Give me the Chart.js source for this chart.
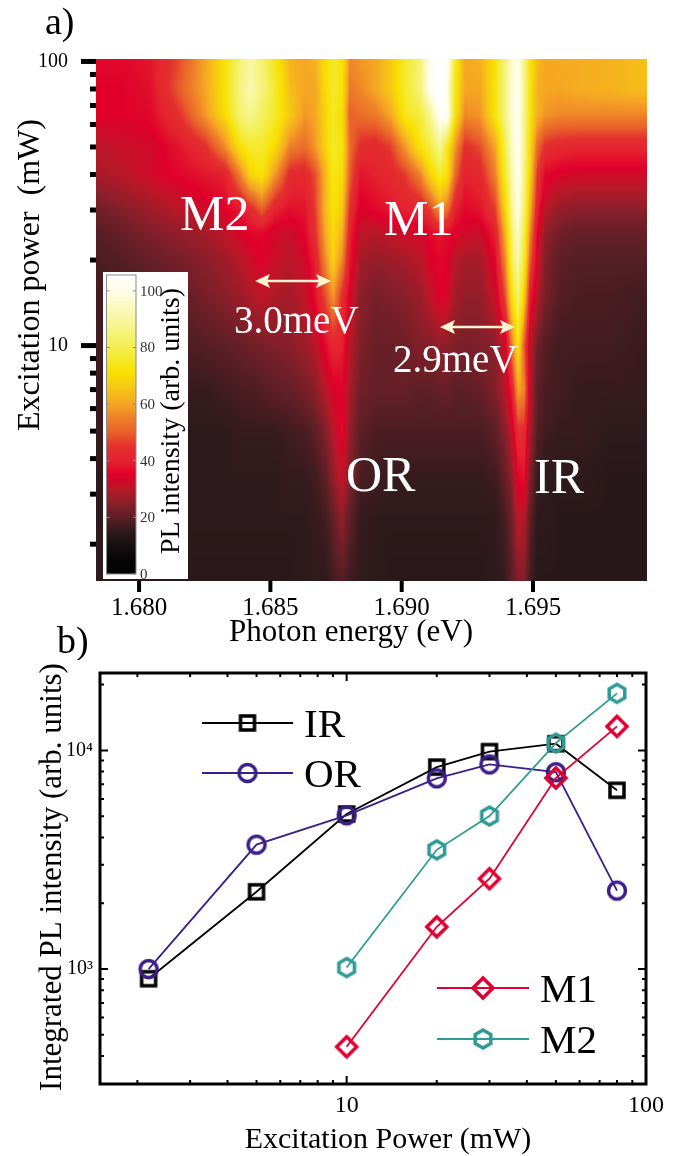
<!DOCTYPE html>
<html>
<head>
<meta charset="utf-8">
<title>PL map</title>
<script src="https://cdn.jsdelivr.net/npm/chart.js@4/dist/chart.umd.min.js"></script>
<style>
  html, body { margin: 0; padding: 0; background: #fff; }
  body { position: relative; width: 681px; height: 1156px; overflow: hidden; }
  canvas { position: absolute; left: 0; }
  #mapChart { top: 0; }
  #lineChart { top: 640px; }
</style>
</head>
<body>
<canvas id="lineChart" width="681" height="516"></canvas>
<canvas id="mapChart" width="681" height="660"></canvas>
<script>
// panel a: PL map, values
const heatEnergies = [1.67836, 1.67928, 1.68042, 1.68156, 1.68251, 1.68327, 1.68385, 1.68423, 1.68468, 1.68518,
  1.68575, 1.68632, 1.68670, 1.68708, 1.68739, 1.68773, 1.68803, 1.68842, 1.68899, 1.68956,
  1.69013, 1.69070, 1.69108, 1.69146, 1.69173, 1.69203, 1.69241, 1.69299, 1.69356, 1.69394,
  1.69420, 1.69443, 1.69466, 1.69489, 1.69516, 1.69546, 1.69603, 1.69679, 1.69793, 1.69934];
const heatPowers = [102, 80, 65, 50, 40, 30, 25, 20, 15, 10, 7, 5, 3.5, 2.5, 1.484];
const heatRows = [
  [36,36,38,48,60,72,84,90,84,74,62,60,62,70,76,72,56,58,60,66,76,84,102,108,104,76,60,62,72,86,96,100,88,72,64,60,61,61,62,65],
  [35,35,37,50,60,72,86,92,86,76,64,60,60,70,76,72,54,56,60,66,76,85,102,108,100,74,60,60,72,86,98,102,88,72,62,60,60,61,62,64],
  [35,35,36,45,58,70,84,88,82,76,66,58,60,68,76,70,50,52,54,60,74,78,88,104,104,72,56,58,72,86,98,102,88,72,62,58,56,56,56,56],
  [30,32,33,38,44,56,72,76,76,70,55,52,58,68,76,72,52,44,42,46,58,72,78,88,74,58,44,48,60,80,95,102,88,70,52,44,42,41,41,41],
  [28,30,33,36,38,40,55,68,72,58,43,42,48,62,74,70,50,38,40,42,46,55,68,76,72,52,40,42,55,76,92,102,86,68,46,36,34,33,33,33],
  [22,24,27,30,33,35,38,42,50,40,37,38,46,62,72,66,44,34,36,38,40,40,46,58,52,40,36,38,46,68,88,100,84,62,40,30,26,25,25,25],
  [19,21,24,26,28,31,34,36,36,33,32,36,44,60,70,62,40,31,30,31,33,33,36,38,37,35,33,32,40,62,84,96,80,56,36,26,22,21,21,21],
  [18,19,21,23,25,27,30,32,35,32,30,33,40,56,68,56,38,28,26,27,28,30,34,36,35,30,28,28,36,56,80,92,76,50,33,24,20,19,19,19],
  [17,17,18,20,23,25,27,29,31,29,28,31,37,48,58,44,34,25,23,24,25,27,31,35,34,28,26,26,32,48,72,84,68,40,30,23,19,18,18,17],
  [17,16,17,18,19,20,21,22,23,24,25,27,30,36,42,40,30,24,21,21,22,24,24,26,25,24,23,24,25,32,54,72,50,30,22,19,17,17,17,16],
  [16,16,16,16,16,17,18,18,19,20,21,23,25,30,34,35,28,22,21,21,21,20,20,21,21,20,20,21,24,30,40,60,56,30,20,18,17,16,16,16],
  [16,16,15,15,15,15,16,16,16,16,17,18,20,24,30,36,26,20,18,18,18,18,18,18,18,18,18,18,20,25,32,44,44,28,19,17,16,16,15,15],
  [15,15,15,15,15,15,15,15,15,15,16,16,17,20,26,32,24,18,17,16,16,16,16,16,16,16,16,16,17,21,26,36,38,24,16,15,15,15,14,14],
  [15,15,15,15,15,15,15,15,15,15,15,15,16,17,21,26,20,16,15,15,15,15,15,15,15,15,15,15,15,18,22,31,30,20,15,15,14,14,14,14],
  [15,15,14,14,14,14,14,14,14,14,14,15,15,15,17,19,17,15,15,14,14,14,14,14,14,14,14,14,15,16,20,24,24,17,14,14,14,14,14,14]
];
const energyTicks = [1.680, 1.685, 1.690, 1.695];
const powerTicksA = [2, 3, 4, 5, 6, 7, 8, 9, 10, 20, 30, 40, 50, 60, 70, 80, 90, 100];
const barTicks = [0, 20, 40, 60, 80, 100];

// colour bar stops [value, r, g, b]
const colorStops = [
  [0, 0, 0, 0], [5, 6, 6, 6], [10, 21, 16, 16], [15, 46, 26, 28], [20, 94, 31, 38], [25, 138, 31, 42],
  [30, 184, 24, 40], [35, 224, 0, 42], [40, 229, 34, 47], [45, 228, 48, 46], [50, 232, 96, 42], [55, 238, 127, 40],
  [60, 245, 166, 35], [66, 246, 200, 20], [71, 248, 224, 0], [80, 243, 238, 80], [90, 248, 246, 160], [100, 255, 253, 232], [106, 255, 255, 255]
];

// panel b: integrated intensity
const powerIR = [2.18, 5, 10, 20, 30, 50, 80];
const valuesIR = [903, 2257, 5117, 8390, 9880, 10730, 6570];
const valuesOR = [1000, 3707, 5050, 7450, 8630, 7950, 2285];
const powerM = [10, 20, 30, 50, 80];
const valuesM1 = [441, 1560, 2590, 7480, 12880];
const valuesM2 = [1016, 3510, 5010, 10800, 18240];
const powerTicksB = [2, 3, 4, 5, 6, 7, 8, 9, 10, 20, 30, 40, 50, 60, 70, 80, 90, 100];
const intensityTicks = [400, 500, 600, 700, 800, 900, 1000, 2000, 3000, 4000, 5000, 6000, 7000, 8000, 9000, 10000, 20000];

const SERIF = '"Liberation Serif", "Times New Roman", serif';
const C_IR = '#000000', C_OR = '#3b1e87', C_M1 = '#e0002f', C_M2 = '#2f9a96';

function colorFor(v) {
  let i = 1;
  while (i < colorStops.length - 1 && colorStops[i][0] < v) i++;
  const a = colorStops[i - 1], b = colorStops[i];
  const t = Math.min(1, Math.max(0, (v - a[0]) / (b[0] - a[0])));
  return [a[1] + (b[1] - a[1]) * t, a[2] + (b[2] - a[2]) * t, a[3] + (b[3] - a[3]) * t];
}

// finds the segment and fraction of v in a sorted list
function locate(list, v) {
  let i = 0;
  while (i < list.length - 2 && list[i + 1] < v) i++;
  const t = (v - list[i]) / (list[i + 1] - list[i]);
  return [i, Math.min(1, Math.max(0, t))];
}

const logPowers = heatPowers.map(p => -Math.log10(p));

const heatmap = {
  id: 'heatmap',
  beforeDatasetsDraw(chart) {
    const {ctx, chartArea: a, scales} = chart;
    const w = Math.round(a.right - a.left), h = Math.round(a.bottom - a.top);
    const img = ctx.createImageData(w, h);
    for (let py = 0; py < h; py++) {
      const [r, rt] = locate(logPowers, -Math.log10(scales.y.getValueForPixel(a.top + py + 0.5)));
      for (let px = 0; px < w; px++) {
        const [c, ct] = locate(heatEnergies, scales.x.getValueForPixel(a.left + px + 0.5));
        const top = heatRows[r][c] * (1 - ct) + heatRows[r][c + 1] * ct;
        const bot = heatRows[r + 1][c] * (1 - ct) + heatRows[r + 1][c + 1] * ct;
        const col = colorFor(top * (1 - rt) + bot * rt);
        const k = (py * w + px) * 4;
        img.data[k] = col[0];
        img.data[k + 1] = col[1];
        img.data[k + 2] = col[2];
        img.data[k + 3] = 255;
      }
    }
    ctx.putImageData(img, Math.round(a.left), Math.round(a.top));
  }
};

function drawText(ctx, text, x, y, size, color, rot, align) {
  ctx.save();
  ctx.translate(x, y);
  if (rot) ctx.rotate(rot);
  ctx.font = size + 'px ' + SERIF;
  ctx.fillStyle = color;
  ctx.textAlign = align || 'left';
  ctx.textBaseline = 'alphabetic';
  ctx.fillText(text, 0, 0);
  ctx.restore();
}

function drawArrow(ctx, x1, x2, y) {
  ctx.save();
  ctx.strokeStyle = ctx.fillStyle = '#fff6d0';
  ctx.lineWidth = 2.5;
  ctx.beginPath();
  ctx.moveTo(x1 + 6, y);
  ctx.lineTo(x2 - 6, y);
  ctx.stroke();
  [[x1, 1], [x2, -1]].forEach(([x, d]) => {
    ctx.beginPath();
    ctx.moveTo(x, y);
    ctx.lineTo(x + d * 15, y - 7);
    ctx.lineTo(x + d * 12, y);
    ctx.lineTo(x + d * 15, y + 7);
    ctx.closePath();
    ctx.fill();
  });
  ctx.restore();
}

const mapDecor = {
  id: 'mapDecor',
  afterDraw(chart) {
    const {ctx, chartArea: a, scales} = chart;
    ctx.save();
    ctx.fillStyle = '#000';
    // ticks on the power axis, outside
    scales.y.ticks.forEach(t => {
      const y = scales.y.getPixelForValue(t.value);
      const major = t.value === 10 || t.value === 100;
      ctx.fillRect(a.left - (major ? 15 : 6), y - 2.5, major ? 15 : 6, 5);
    });
    scales.x.ticks.forEach(t => {
      ctx.fillRect(scales.x.getPixelForValue(t.value) - 2, a.bottom, 4, 11);
    });

    // colour bar box
    const bx = 103, by = 272, bw = 85, bh = 307;
    const gx = 106.5, gw = 29.5, gTop = 275, gBot = 574, vTop = 105.6;
    ctx.fillStyle = '#fff';
    ctx.fillRect(bx, by, bw, bh);
    for (let y = gTop; y < gBot; y++) {
      const col = colorFor(vTop * (gBot - y - 0.5) / (gBot - gTop));
      ctx.fillStyle = 'rgb(' + col.map(Math.round).join(',') + ')';
      ctx.fillRect(gx, y, gw, 1);
    }
    ctx.strokeStyle = '#8a8a8a';
    ctx.lineWidth = 1;
    ctx.strokeRect(gx, gTop, gw, gBot - gTop);
    barTicks.forEach(v => {
      const y = gBot - (v / vTop) * (gBot - gTop);
      ctx.beginPath();
      ctx.moveTo(gx, y); ctx.lineTo(gx + 3, y);
      ctx.moveTo(gx + gw, y); ctx.lineTo(gx + gw - 3, y);
      ctx.stroke();
      drawText(ctx, String(v), 140, y + 5, 15, '#333', 0);
    });
    drawText(ctx, 'PL intensity (arb. units)', 179, 421, 28, '#000', -Math.PI / 2, 'center');

    // labels on the map
    drawText(ctx, 'M2', 180, 230, 50, '#fff');
    drawText(ctx, 'M1', 384, 235, 50, '#fff');
    drawText(ctx, 'OR', 346, 491, 50, '#fff');
    drawText(ctx, 'IR', 534, 493, 50, '#fff');
    drawText(ctx, '3.0meV', 234, 333, 39, '#fff');
    drawText(ctx, '2.9meV', 393, 372, 39, '#fff');
    drawArrow(ctx, 255, 331, 281);
    drawArrow(ctx, 440, 515, 327);

    drawText(ctx, 'a)', 45, 34, 38, '#000');
    drawText(ctx, 'b)', 57, 653, 38, '#000');
    drawText(ctx, 'Excitation power  (mW)', 38.5, 275, 32, '#000', -Math.PI / 2, 'center');
    drawText(ctx, 'Photon energy (eV)', 351, 641, 31, '#000', 0, 'center');
    ctx.restore();
  }
};

new Chart(document.getElementById('mapChart'), {
  type: 'scatter',
  data: {
    datasets: [{
      label: 'PL intensity',
      data: heatPowers.flatMap((p, r) => heatEnergies.map((e, c) => ({x: e, y: p, v: heatRows[r][c]}))),
      pointRadius: 0
    }]
  },
  options: {
    responsive: false,
    animation: false,
    devicePixelRatio: 1,
    layout: {padding: {top: 59, right: 34, left: 0, bottom: 0}},
    plugins: {legend: {display: false}, tooltip: {enabled: false}},
    scales: {
      x: {
        type: 'linear',
        min: 1.67836,
        max: 1.69934,
        afterBuildTicks: s => { s.ticks = energyTicks.map(value => ({value})); },
        afterFit: s => { s.height = 79; },
        grid: {display: false, drawTicks: false},
        border: {display: false},
        ticks: {
          callback: v => v.toFixed(3),
          autoSkip: false, maxRotation: 0, padding: 12, color: '#000',
          font: {family: SERIF, size: 25}
        }
      },
      y: {
        type: 'logarithmic',
        min: 1.484,
        max: 102,
        afterBuildTicks: s => { s.ticks = powerTicksA.map(value => ({value})); },
        afterFit: s => { s.width = 96; },
        grid: {display: false, drawTicks: false},
        border: {display: false},
        ticks: {
          callback: v => (v === 10 || v === 100 ? String(v) : ''),
          autoSkip: false, padding: 28, color: '#000',
          font: {family: SERIF, size: 20}
        }
      }
    }
  },
  plugins: [heatmap, mapDecor]
});

// open markers, the lines show through them
function markerCanvas(shape, color, size) {
  const c = document.createElement('canvas');
  c.width = c.height = size;
  const g = c.getContext('2d');
  const m = size / 2;
  g.strokeStyle = color;
  g.lineWidth = 3.5;
  g.lineJoin = 'miter';
  g.beginPath();
  if (shape === 'square') {
    g.rect(m - 7, m - 7, 14, 14);
  } else if (shape === 'circle') {
    g.arc(m, m, 8.5, 0, Math.PI * 2);
  } else if (shape === 'diamond') {
    g.moveTo(m, m - 10); g.lineTo(m + 10, m); g.lineTo(m, m + 10); g.lineTo(m - 10, m); g.closePath();
  } else {
    for (let i = 0; i < 6; i++) {
      const t = Math.PI / 2 + i * Math.PI / 3;
      g.lineTo(m + 9 * Math.cos(t), m + 9 * Math.sin(t));
    }
    g.closePath();
  }
  g.stroke();
  return c;
}

const markIR = markerCanvas('square', C_IR, 28);
const markOR = markerCanvas('circle', C_OR, 28);
const markM1 = markerCanvas('diamond', C_M1, 28);
const markM2 = markerCanvas('hexagon', C_M2, 28);

const pairs = (xs, ys) => xs.map((x, i) => ({x, y: ys[i]}));

const series = (label, data, color, marker, order) => ({
  label, data, order,
  borderColor: color,
  borderWidth: 1.8,
  pointStyle: marker,
  pointRadius: 14,
  tension: 0,
  fill: false,
  showLine: true
});

const lineDecor = {
  id: 'lineDecor',
  afterDraw(chart) {
    const {ctx, chartArea: a, scales} = chart;
    ctx.save();
    ctx.strokeStyle = '#000';
    // inward ticks on all four sides
    scales.y.ticks.forEach(t => {
      const y = scales.y.getPixelForValue(t.value);
      const major = t.value === 1000 || t.value === 10000;
      const len = major ? 8 : 4;
      ctx.lineWidth = 2;
      ctx.beginPath();
      ctx.moveTo(a.left, y); ctx.lineTo(a.left + len, y);
      ctx.moveTo(a.right, y); ctx.lineTo(a.right - len, y);
      ctx.stroke();
    });
    scales.x.ticks.forEach(t => {
      const x = scales.x.getPixelForValue(t.value);
      const major = t.value === 10 || t.value === 100;
      const len = major ? 8 : 4;
      ctx.lineWidth = 2;
      ctx.beginPath();
      ctx.moveTo(x, a.bottom); ctx.lineTo(x, a.bottom - len);
      ctx.moveTo(x, a.top); ctx.lineTo(x, a.top + len);
      ctx.stroke();
    });
    ctx.lineWidth = 3;
    ctx.strokeRect(a.left, a.top, a.right - a.left, a.bottom - a.top);

    // legend, split in two groups like the figure
    [[202, 293, 83, C_IR, markIR, 'IR', 304],
     [202, 293, 133, C_OR, markOR, 'OR', 304],
     [437, 529, 348, C_M1, markM1, 'M1', 540],
     [437, 529, 399, C_M2, markM2, 'M2', 540]].forEach(([x1, x2, y, color, mark, name, tx]) => {
      ctx.strokeStyle = color;
      ctx.lineWidth = 1.8;
      ctx.beginPath();
      ctx.moveTo(x1, y); ctx.lineTo(x2, y);
      ctx.stroke();
      ctx.drawImage(mark, (x1 + x2) / 2 - 14, y - 14);
      drawText(ctx, name, tx, y + 14, 41, '#000');
    });

    drawText(ctx, 'Integrated PL intensity (arb. units)', 61, 237, 31, '#000', -Math.PI / 2, 'center');
    drawText(ctx, 'Excitation Power (mW)', 388, 508, 30, '#000', 0, 'center');
    ctx.restore();
  }
};

new Chart(document.getElementById('lineChart'), {
  type: 'scatter',
  data: {
    datasets: [
      series('IR', pairs(powerIR, valuesIR), C_IR, markIR, 4),
      series('OR', pairs(powerIR, valuesOR), C_OR, markOR, 3),
      series('M2', pairs(powerM, valuesM2), C_M2, markM2, 2),
      series('M1', pairs(powerM, valuesM1), C_M1, markM1, 1)
    ]
  },
  options: {
    responsive: false,
    animation: false,
    devicePixelRatio: 1,
    layout: {padding: {top: 33, right: 35, left: 0, bottom: 0}},
    plugins: {legend: {display: false}, tooltip: {enabled: false}},
    scales: {
      x: {
        type: 'logarithmic',
        min: 1.5,
        max: 100,
        afterBuildTicks: s => { s.ticks = powerTicksB.map(value => ({value})); },
        afterFit: s => { s.height = 72; },
        grid: {display: false, drawTicks: false},
        border: {display: false},
        ticks: {
          callback: v => (v === 10 || v === 100 ? String(v) : ''),
          autoSkip: false, maxRotation: 0, padding: 7, color: '#000',
          font: {family: SERIF, size: 24}
        }
      },
      y: {
        type: 'logarithmic',
        min: 298,
        max: 22600,
        afterBuildTicks: s => { s.ticks = intensityTicks.map(value => ({value})); },
        afterFit: s => { s.width = 100; },
        grid: {display: false, drawTicks: false},
        border: {display: false},
        ticks: {
          callback: v => (v === 1000 ? '10\u00b3' : v === 10000 ? '10\u2074' : ''),
          autoSkip: false, padding: 7, color: '#000',
          font: {family: SERIF, size: 20}
        }
      }
    }
  },
  plugins: [lineDecor]
});
</script>
</body>
</html>
